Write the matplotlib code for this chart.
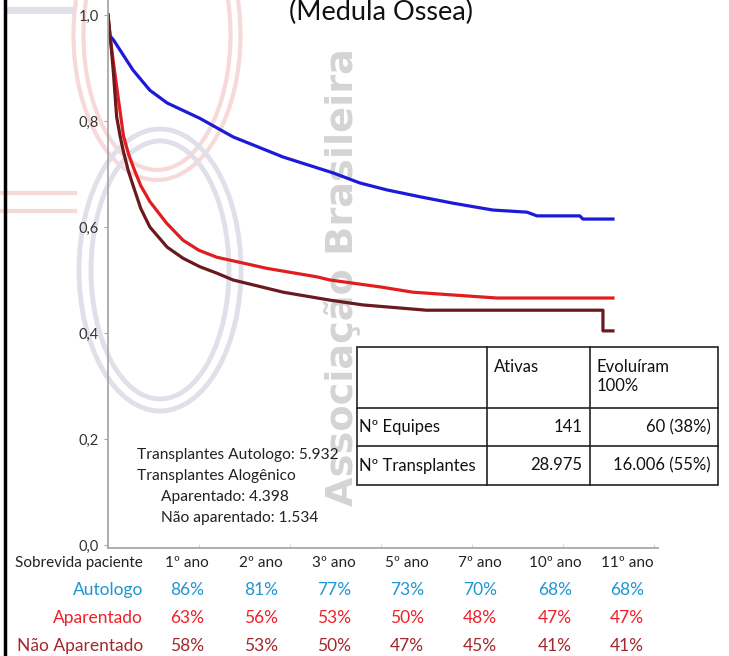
import matplotlib
matplotlib.use("Agg")
import matplotlib.pyplot as plt
from matplotlib.patches import Ellipse, Rectangle

plt.rcParams['font.family'] = ['Lato', 'DejaVu Sans']

# --- survival curves (years, survival fraction) ---
auto_years = [0, 0.03, 0.12, 0.55, 0.92, 1.3, 2.02, 2.75, 3.85, 4.95, 5.54, 6.13,
              6.86, 7.58, 8.46, 9.21, 9.43, 10.37, 10.44, 11.1]
auto_surv = [1.0, 0.962, 0.953, 0.896, 0.858, 0.834, 0.805, 0.770, 0.732, 0.702, 0.683,
             0.670, 0.657, 0.645, 0.632, 0.628, 0.621, 0.621, 0.615, 0.615]

apar_years = [0, 0.05, 0.12, 0.23, 0.34, 0.45, 0.56, 0.72, 0.92, 1.29, 1.65, 2.0, 2.39,
              3.49, 4.59, 4.88, 5.98, 6.7, 8.55, 11.1]
apar_surv = [1.0, 0.955, 0.91, 0.84, 0.772, 0.738, 0.712, 0.678, 0.648, 0.607, 0.575,
             0.556, 0.543, 0.522, 0.506, 0.50, 0.487, 0.477, 0.466, 0.466]

naop_years = [0, 0.06, 0.12, 0.19, 0.27, 0.34, 0.45, 0.56, 0.72, 0.92, 1.3, 1.65, 2.02,
              2.39, 2.75, 3.85, 4.88, 5.6, 7.0, 10.88, 10.88, 11.1]
naop_surv = [1.0, 0.95, 0.89, 0.808, 0.77, 0.742, 0.705, 0.676, 0.635, 0.60, 0.562,
             0.541, 0.525, 0.513, 0.50, 0.477, 0.462, 0.453, 0.443, 0.443, 0.404, 0.404]

y_ticks = [0.0, 0.2, 0.4, 0.6, 0.8, 1.0]
x_ticks = [0, 2, 4, 6, 8, 10, 12]

# --- bottom survival table ---
year_labels = ['1º ano', '2º ano', '3º ano', '5º ano', '7º ano', '10º ano', '11º ano']
row_names = ['Autologo', 'Aparentado', 'Não Aparentado']
row_values = {
    'Autologo': ['86%', '81%', '77%', '73%', '70%', '68%', '68%'],
    'Aparentado': ['63%', '56%', '53%', '50%', '48%', '47%', '47%'],
    'Não Aparentado': ['58%', '53%', '50%', '47%', '45%', '41%', '41%'],
}
row_colors = {'Autologo': '#1e96d2', 'Aparentado': '#f0202a', 'Não Aparentado': '#a3282c'}

# --- box table ---
box_header = ['', 'Ativas', 'Evoluíram\n100%']
box_rows = [['Nº Equipes', '141', '60 (38%)'],
            ['Nº Transplantes', '28.975', '16.006 (55%)']]

info_lines = ['Transplantes Autologo: 5.932', 'Transplantes Alogênico',
              '      Aparentado: 4.398', '      Não aparentado: 1.534']

W, H = 729, 656
fig = plt.figure(figsize=(W / 100, H / 100), dpi=100)

# background layer (faded logo watermark) in pixel coordinates
bg = fig.add_axes([0, 0, 1, 1], zorder=0)
bg.set_xlim(0, W)
bg.set_ylim(H, 0)
bg.axis('off')
for w, h in [(167, 290), (147, 270)]:
    bg.add_patch(Ellipse((157, 35), w, h, fill=False, ec='#f7d9d9', lw=3))
for w, h in [(162, 282), (138, 258)]:
    bg.add_patch(Ellipse((160, 270), w, h, fill=False, ec='#e0e0ea', lw=3.5))
bg.plot([0, 75], [193, 193], color='#f7d9d9', lw=3)
bg.plot([0, 75], [211, 211], color='#f7d9d9', lw=3)
bg.plot([8, 70], [10, 10], color='#e0e0ea', lw=5)
bg.text(343, 506, 'Associação Brasileira', rotation=90,
        rotation_mode='anchor', ha='left', va='center', fontsize=27.5,
        fontweight='bold', color='#d4d4d4', family='DejaVu Sans')
bg.plot([5, 5], [0, H], color='black', lw=2.5)

# main plot
ax = fig.add_axes([108 / W, 1 - 548 / H, (658 - 108) / W, 548 / H], zorder=1)
ax.set_facecolor('none')
ax.plot(auto_years, auto_surv, color='#1c1ad8', lw=2.3)
ax.plot(apar_years, apar_surv, color='#e01d1f', lw=2.3)
ax.plot(naop_years, naop_surv, color='#6a1a1e', lw=2.3)
ax.set_xlim(0, 12.09)
ax.set_ylim(-3 / 530, 545 / 530)
ax.set_yticks(y_ticks)
ax.set_yticklabels([f'{v:.1f}'.replace('.', ',') for v in y_ticks])
ax.set_xticks(x_ticks)
ax.set_xticklabels([])
for s in ['top', 'right']:
    ax.spines[s].set_visible(False)
for s in ['left', 'bottom']:
    ax.spines[s].set_color('#a8a8a8')
    ax.spines[s].set_linewidth(1.3)
ax.tick_params(axis='y', colors='#a8a8a8', labelcolor='#333333', labelsize=10.5, length=3)
ax.tick_params(axis='x', colors='#d8d8d8', length=3, direction='in')

# foreground layer: texts and tables
fg = fig.add_axes([0, 0, 1, 1], zorder=2)
fg.set_xlim(0, W)
fg.set_ylim(H, 0)
fg.axis('off')
fg.patch.set_alpha(0)

fig.text(381 / W, 1 - 20 / H, '(Medula Óssea)', ha='center', va='baseline',
         fontsize=19.5, color='#111111')

for i, line in enumerate(info_lines):
    fg.text(137, 455 + i * 21, line, ha='left', va='center', fontsize=11.2, color='#222222')

# box table
bx = [357, 487, 590, 718]
by = [347, 408, 446, 485]
fg.add_patch(Rectangle((bx[0], by[0]), bx[-1] - bx[0], by[-1] - by[0],
                       fc='white', ec='#222222', lw=1.2))
for x in bx[1:-1]:
    fg.plot([x, x], [by[0], by[-1]], color='#222222', lw=1.2)
for y in by[1:-1]:
    fg.plot([bx[0], bx[-1]], [y, y], color='#222222', lw=1.2)
fg.text(bx[1] + 7, by[0] + 12, box_header[1], ha='left', va='top', fontsize=12, color='#111111')
fg.text(bx[2] + 7, by[0] + 12, box_header[2], ha='left', va='top', fontsize=12,
        color='#111111', linespacing=1.2)
for r, row in enumerate(box_rows):
    yc = (by[r + 1] + by[r + 2]) / 2
    fg.text(bx[0] + 2, yc, row[0], ha='left', va='center', fontsize=12, color='#111111')
    fg.text(bx[2] - 8, yc, row[1], ha='right', va='center', fontsize=12, color='#111111')
    fg.text(bx[3] - 7, yc, row[2], ha='right', va='center', fontsize=12, color='#111111')

# bottom survival table
col_x = [187, 261, 334, 407, 480, 555, 627]
fg.text(143, 563, 'Sobrevida paciente', ha='right', va='center', fontsize=11, color='#222222')
for cx, lab in zip(col_x, year_labels):
    fg.text(cx, 563, lab, ha='center', va='center', fontsize=11, color='#222222')
for r, name in enumerate(row_names):
    yc = 590 + r * 28
    fg.text(143, yc, name, ha='right', va='center', fontsize=12.5, color=row_colors[name])
    for cx, val in zip(col_x, row_values[name]):
        fg.text(cx, yc, val, ha='center', va='center', fontsize=12.5, color=row_colors[name])

fig.savefig('out.png', dpi=100, facecolor='white')
